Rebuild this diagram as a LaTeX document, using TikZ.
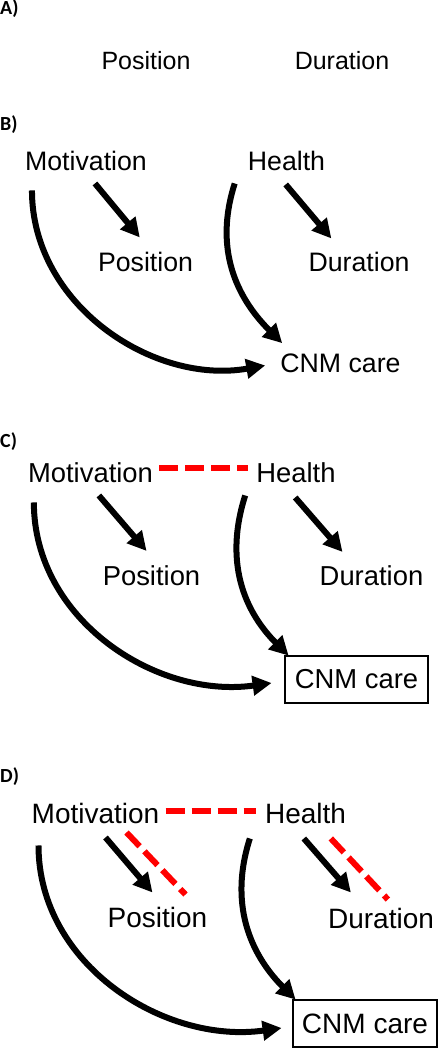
\documentclass[tikz,border=0pt]{standalone}
\usepackage{fontspec}
\setmainfont{Liberation Sans}
\newfontfamily\panelfont{Carlito}
\usetikzlibrary{calc,arrows.meta}

\begin{document}
\begin{tikzpicture}[x=1pt, y=1pt,
		txt/.style={inner sep=0pt, anchor=base},
		txtA/.style={txt, font=\fontsize{25}{28}\selectfont},
		txtB/.style={txt, font=\fontsize{26.7}{30}\selectfont},
		txtC/.style={txt, font=\fontsize{27.4}{30}\selectfont},
		txtD/.style={txt, font=\fontsize{28}{31}\selectfont},
		panel/.style={inner sep=0pt, anchor=base west, font=\panelfont\bfseries\fontsize{20}{22}\selectfont},
		arr/.style={line width=6pt, -{Triangle[length=19pt,width=19pt]}},
		corr/.style={line width=6pt, color=red, dash pattern=on 19pt off 7pt},
		cnmbox/.style={draw, line width=2.8pt, inner sep=0pt, minimum width=143pt, minimum height=47pt}]
		%%%%% START %%%%%
		\useasboundingbox (0, 0) rectangle (443, -1050);
		
		%% A
		\node[panel] (labA) at (0, -14) {A)};
		\node[txtA] (posA) at (146, -69) {Position};
		\node[txtA] (durA) at (342, -69) {Duration};
		
		%% B
		\node[panel] (labB) at (0, -130) {B)};
		\node[txtB] (motB) at (86, -170) {Motivation};
		\node[txtB] (healthB) at (286.5, -170) {Health};
		\node[txtB] (posB) at (145.5, -271) {Position};
		\node[txtB] (durB) at (359, -271) {Duration};
		\node[txtB] (cnmB) at (340.5, -372) {CNM care};
		
		\draw[arr] ($(motB.south west)+(70,-13)$) -- ($(posB.north west)+(42,14)$);
		\draw[arr] ($(healthB.south west)+(38,-14)$) -- ($(durB.north west)+(23,13)$);
		\draw[arr] ($(motB.south west)+(7,-20)$) to[out=-90, in=190] ($(cnmB.south west)+(-15,7)$);
		\draw[arr] ($(healthB.south west)+(-13,-13)$) .. controls +(-23,-72) and +(-40,40) .. ($(cnmB.north west)+(2,10)$);
		
		%% C
		\node[panel] (labC) at (0, -447) {C)};
		\node[txtC] (motC) at (90.5, -482) {Motivation};
		\node[txtC] (healthC) at (296, -482) {Health};
		\node[txtC] (posC) at (151.5, -585) {Position};
		\node[txtC] (durC) at (371.5, -585) {Duration};
		\node[txtC, cnmbox, anchor=center] (cnmC) at (356.5, -679.5) {CNM care};
		
		\draw[corr] ($(motC.east)+(6,4)$) -- ($(healthC.west)+(-8,4)$);
		\draw[arr] ($(motC.south west)+(71,-13)$) -- ($(posC.north west)+(44,14)$);
		\draw[arr] ($(healthC.south west)+(39,-15)$) -- ($(durC.north west)+(23,13)$);
		\draw[arr] ($(motC.south west)+(6,-20)$) to[out=-90, in=188] ($(cnmC.west)+(-12,-3.5)$);
		\draw[arr] ($(healthC.south west)+(-11,-13)$) .. controls +(-23,-72) and +(-40,40) .. ($(cnmC.north west)+(5,-1)$);
		
		%% D
		\node[panel] (labD) at (0, -782) {D)};
		\node[txtD] (motD) at (95.5, -823) {Motivation};
		\node[txtD] (healthD) at (305.5, -823) {Health};
		\node[txtD] (posD) at (157.5, -927) {Position};
		\node[txtD] (durD) at (381, -928) {Duration};
		\node[txtD, cnmbox, minimum width=144pt, anchor=center] (cnmD) at (365, -1023.5) {CNM care};
		
		\draw[corr] ($(motD.east)+(6,2)$) -- ($(healthD.west)+(-9,2)$);
		\draw[arr] ($(motD.south west)+(74,-14)$) -- ($(posD.north west)+(45,14)$);
		\draw[corr] ($(motD.south west)+(95,-9)$) -- ($(posD.north west)+(78,12)$);
		\draw[arr] ($(healthD.south west)+(39,-15)$) -- ($(durD.north west)+(23,15)$);
		\draw[corr] ($(healthD.south west)+(66,-15)$) -- ($(durD.north west)+(60,8)$);
		\draw[arr] ($(motD.south west)+(7,-22)$) to[out=-90, in=188] ($(cnmD.west)+(-10,-4.5)$);
		\draw[arr] ($(healthD.south west)+(-15,-15)$) .. controls +(-23,-72) and +(-40,40) .. ($(cnmD.north west)+(4,-1)$);
		
		%%%%% END %%%%%
	\end{tikzpicture}
\end{document}
